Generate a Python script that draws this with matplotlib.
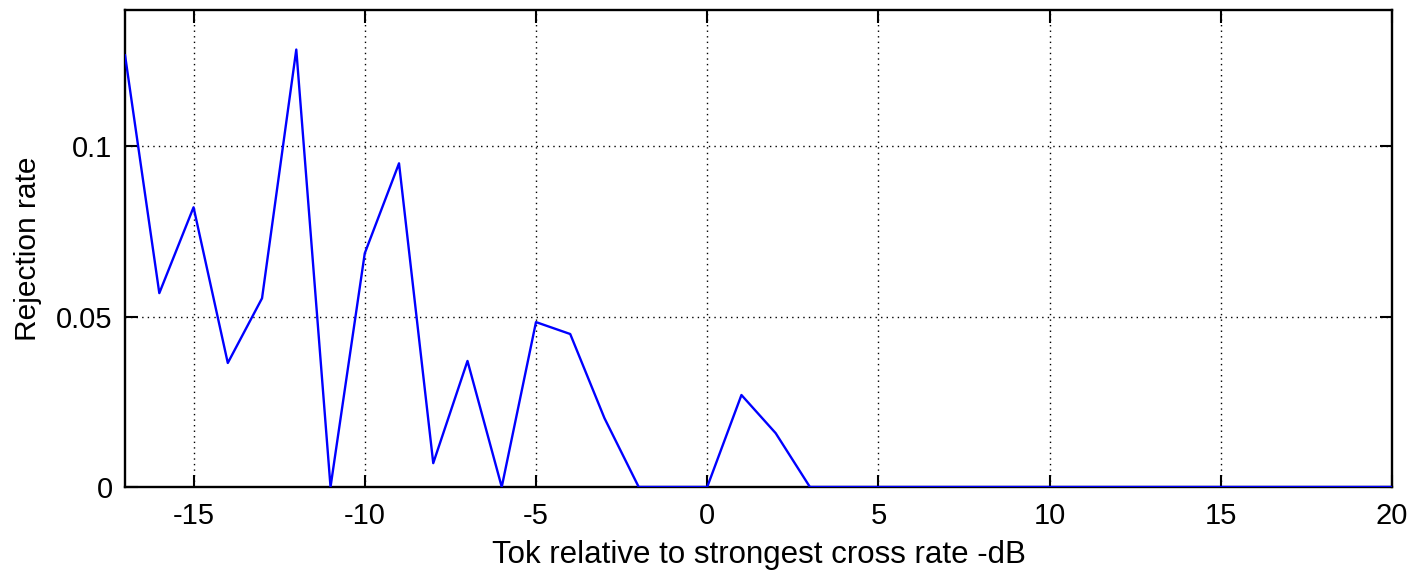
import matplotlib
matplotlib.use("Agg")
import matplotlib.pyplot as plt
import numpy as np

x = list(range(-17, 21))
rate = [0.1267, 0.0569, 0.0821, 0.0364, 0.0554, 0.1284, 0.0, 0.0686, 0.0950, 0.0070,
        0.0370, 0.0, 0.0484, 0.0449, 0.0202, 0.0, 0.0, 0.0, 0.0270, 0.0158,
        0.0, 0.0, 0.0, 0.0, 0.0, 0.0, 0.0, 0.0, 0.0, 0.0,
        0.0, 0.0, 0.0, 0.0, 0.0, 0.0, 0.0, 0.0]
xticks = [-15, -10, -5, 0, 5, 10, 15, 20]
yticks = [0, 0.05, 0.1]
yticklabels = ["0", "0.05", "0.1"]

plt.rcParams['font.family'] = ['Liberation Sans', 'DejaVu Sans']
fig = plt.figure(figsize=(14.18, 5.73), dpi=100)
ax = fig.add_axes([0.0882, 0.1501, 0.8935, 0.8324])
ax.plot(x, rate, color='#0000ff', lw=1.7, zorder=3)
ax.set_xlim(-17, 20)
ax.set_ylim(0, 0.14)
ax.set_xticks(xticks)
ax.set_xticklabels([str(t) for t in xticks])
ax.set_yticks(yticks)
ax.set_yticklabels(yticklabels)
ax.grid(True, color='black', linestyle=(0, (1, 3)), lw=1.0)
ax.tick_params(direction='in', length=9, width=1.5, labelsize=21, top=True, right=True)
ax.tick_params(axis='x', pad=11)
ax.tick_params(axis='y', pad=9)
for s in ax.spines.values():
    s.set_linewidth(1.7)
ax.set_xlabel('Tok relative to strongest cross rate -dB', fontsize=22.5, labelpad=7)
ax.set_ylabel('Rejection rate', fontsize=21.5, labelpad=10)
fig.savefig('out.png', dpi=100)
